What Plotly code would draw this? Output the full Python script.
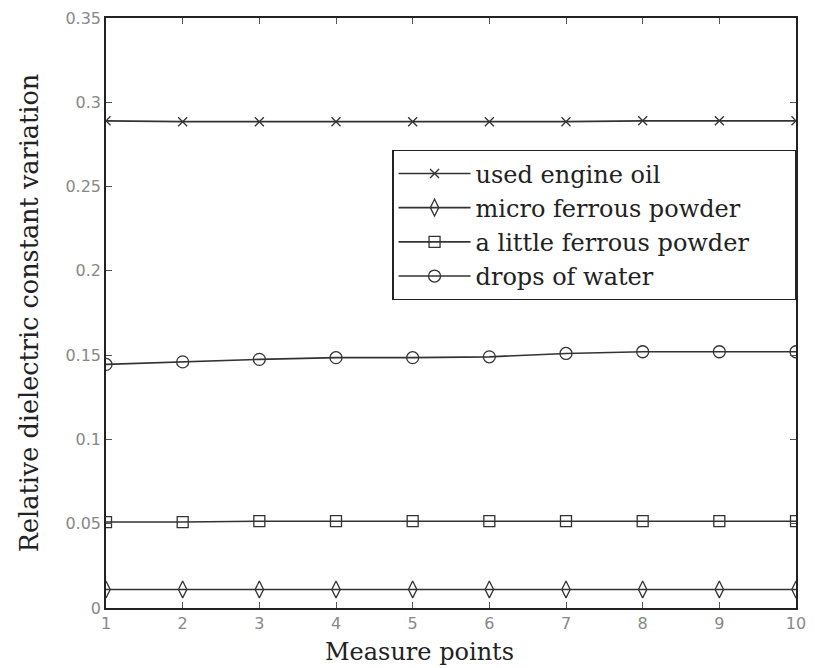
import plotly.graph_objects as go

points = [1, 2, 3, 4, 5, 6, 7, 8, 9, 10]
engine_oil = [0.289, 0.2885, 0.2885, 0.2885, 0.2885, 0.2885, 0.2885, 0.289, 0.289, 0.289]
micro_ferrous = [0.011, 0.011, 0.011, 0.011, 0.011, 0.011, 0.011, 0.011, 0.011, 0.011]
little_ferrous = [0.051, 0.051, 0.0515, 0.0515, 0.0515, 0.0515, 0.0515, 0.0515, 0.0515, 0.0515]
water = [0.1445, 0.146, 0.1475, 0.1485, 0.1485, 0.149, 0.151, 0.152, 0.152, 0.152]

series = [
    ("used engine oil", engine_oil, "x-thin-open", 9),
    ("micro ferrous powder", micro_ferrous, "diamond-tall-open", 12),
    ("a little ferrous powder", little_ferrous, "square-open", 11),
    ("drops of water", water, "circle-open", 12),
]

fig = go.Figure()
for name, vals, sym, size in series:
    fig.add_trace(go.Scatter(
        x=points, y=vals, name=name, mode="lines+markers",
        line=dict(color="#333", width=1.6),
        marker=dict(symbol=sym, size=size, color="#333", line=dict(color="#333", width=1.3)),
    ))

axis_common = dict(
    showgrid=False, zeroline=False, showline=True, linecolor="#222", linewidth=1.5,
    mirror="ticks", ticks="inside", ticklen=6, tickcolor="#555",
    tickfont=dict(family="DejaVu Sans", size=16, color="#888"),
)

fig.update_xaxes(range=[1, 10], tickvals=points, **axis_common)
fig.update_yaxes(range=[0, 0.35], tickvals=[0, 0.05, 0.1, 0.15, 0.2, 0.25, 0.3, 0.35],
                 ticktext=["0", "0.05", "0.1", "0.15", "0.2", "0.25", "0.3", "0.35"],
                 title_text="Relative dielectric constant variation", title_standoff=19,
                 title_font=dict(family="DejaVu Serif", size=25.5, color="#222"),
                 **axis_common)

fig.add_annotation(text="Measure points", xref="paper", yref="paper",
                   x=0.454, y=-0.047, xanchor="center", yanchor="top", showarrow=False,
                   font=dict(family="DejaVu Serif", size=24, color="#222"))

fig.update_layout(
    width=815, height=668,
    margin=dict(l=106, r=9, t=18, b=60),
    plot_bgcolor="white", paper_bgcolor="white",
    legend=dict(x=0.415, y=0.776, xanchor="left", yanchor="top",
                orientation="h",
                bordercolor="#222", borderwidth=1.2, bgcolor="white",
                font=dict(family="DejaVu Serif", size=24, color="#222"),
                itemwidth=72, tracegroupgap=0,
                entrywidth=314, entrywidthmode="pixels"),
    showlegend=True,
)

fig.write_html("out.html")
